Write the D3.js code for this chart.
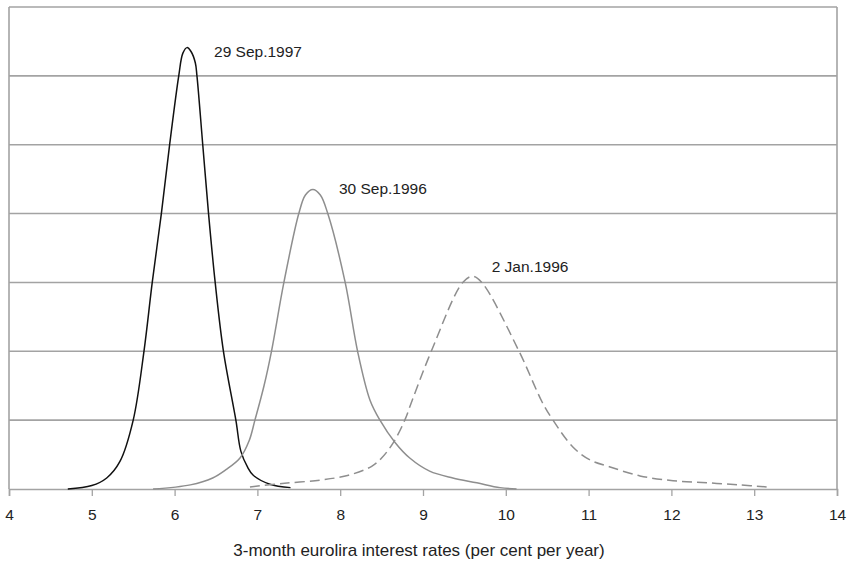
<!DOCTYPE html>
<html>
<head>
<meta charset="utf-8">
<script src="https://cdn.jsdelivr.net/npm/d3@7/dist/d3.min.js"></script>
<style>
  html, body { margin: 0; padding: 0; background: #fff; }
  svg { display: block; font-family: "Liberation Sans", Arial, sans-serif; }
</style>
</head>
<body>
<svg id="chart" width="848" height="564"></svg>
<script>
// ---- data ----
const xTicks = [4, 5, 6, 7, 8, 9, 10, 11, 12, 13, 14];
const seriesNames = ["29 Sep.1997", "30 Sep.1996", "2 Jan.1996"];

const sep1997X = [4.71, 5.0, 5.18, 5.34, 5.5, 5.63, 5.73, 5.84, 5.94, 6.05, 6.1, 6.15, 6.2, 6.25, 6.27, 6.34, 6.41, 6.49, 6.59, 6.74, 6.8, 6.88, 6.95, 7.15, 7.4];
const sep1997Y = [0, 0.05, 0.16, 0.4, 1.0, 2.0, 3.0, 4.0, 5.0, 6.0, 6.33, 6.41, 6.35, 6.19, 6.0, 5.0, 4.0, 3.0, 2.0, 1.0, 0.55, 0.32, 0.2, 0.07, 0.02];

const sep1996X = [5.74, 6.19, 6.46, 6.62, 6.79, 6.9, 6.97, 7.08, 7.17, 7.32, 7.5, 7.58, 7.67, 7.76, 7.85, 8.06, 8.21, 8.36, 8.48, 8.66, 8.84, 9.08, 9.36, 9.65, 9.93, 10.13];
const sep1996Y = [0, 0.06, 0.16, 0.28, 0.45, 0.7, 1.0, 1.5, 2.0, 3.0, 4.0, 4.27, 4.35, 4.27, 4.0, 3.0, 2.0, 1.29, 1.0, 0.68, 0.45, 0.26, 0.16, 0.09, 0.02, 0];

const jan1996X = [6.91, 7.3, 7.76, 8.1, 8.38, 8.5, 8.64, 8.78, 8.87, 9.1, 9.48, 9.6, 9.71, 10.16, 10.44, 10.57, 10.81, 11.02, 11.26, 11.62, 12.02, 12.43, 12.83, 13.15];
const jan1996Y = [0.03, 0.08, 0.13, 0.2, 0.33, 0.45, 0.67, 1.0, 1.29, 2.0, 3.0, 3.09, 3.0, 2.0, 1.26, 1.0, 0.61, 0.42, 0.32, 0.19, 0.12, 0.09, 0.06, 0.03];

const xLabel = "3-month eurolira interest rates (per cent per year)";

// ---- layout ----
const svg = d3.select("#chart");
const mLeft = 9, mRight = 837, mTop = 7, mBottom = 489;
const x = d3.scaleLinear().domain([4, 14]).range([mLeft, mRight]);
const y = d3.scaleLinear().domain([0, 7]).range([mBottom, mTop]);
const gridColor = "#a3a3a3";

// gridlines
svg.append("g").selectAll("line")
  .data(d3.range(1, 8))
  .join("line")
  .attr("x1", mLeft).attr("x2", mRight)
  .attr("y1", d => y(d)).attr("y2", d => y(d))
  .attr("stroke", gridColor).attr("stroke-width", 1.6);

// frame sides
svg.append("line").attr("x1", mLeft).attr("x2", mLeft).attr("y1", mTop).attr("y2", mBottom)
  .attr("stroke", gridColor).attr("stroke-width", 1.6);
svg.append("line").attr("x1", mRight).attr("x2", mRight).attr("y1", mTop).attr("y2", mBottom)
  .attr("stroke", gridColor).attr("stroke-width", 1.6);

// x axis
const xAxis = d3.axisBottom(x).tickValues(xTicks).tickSize(7).tickPadding(13).tickFormat(d3.format("d"));
const ax = svg.append("g").attr("transform", `translate(0,${mBottom})`).call(xAxis);
ax.select(".domain").attr("stroke", gridColor).attr("stroke-width", 1.6);
ax.selectAll(".tick line").attr("stroke", gridColor).attr("stroke-width", 1.3);
ax.selectAll(".tick text").attr("font-size", 15.5).attr("fill", "#222")
  .attr("font-family", "Liberation Sans, Arial, sans-serif");

// curves
const series = [
  { name: seriesNames[0], xs: sep1997X, ys: sep1997Y, color: "#111", dash: null, dx: 27, dy: 9 },
  { name: seriesNames[1], xs: sep1996X, ys: sep1996Y, color: "#8e8e8e", dash: null, dx: 26, dy: 5 },
  { name: seriesNames[2], xs: jan1996X, ys: jan1996Y, color: "#8e8e8e", dash: "10,5", dx: 19, dy: -4 }
];

const line = d3.line()
  .x(d => x(d[0])).y(d => y(d[1]))
  .curve(d3.curveCatmullRom.alpha(0.5));

series.forEach(s => {
  const pts = s.xs.map((v, i) => [v, s.ys[i]]);
  svg.append("path")
    .datum(pts)
    .attr("d", line)
    .attr("fill", "none")
    .attr("stroke", s.color)
    .attr("stroke-width", 1.5)
    .attr("stroke-dasharray", s.dash);
  const peak = pts.reduce((a, b) => (b[1] > a[1] ? b : a));
  svg.append("text")
    .attr("x", x(peak[0]) + s.dx)
    .attr("y", y(peak[1]) + s.dy)
    .attr("font-size", 15.5)
    .attr("fill", "#222")
    .text(s.name);
});

// axis title
svg.append("text")
  .attr("x", (mLeft + mRight) / 2 - 4)
  .attr("y", 556)
  .attr("text-anchor", "middle")
  .attr("font-size", 17)
  .attr("fill", "#222")
  .text(xLabel);
</script>
</body>
</html>
